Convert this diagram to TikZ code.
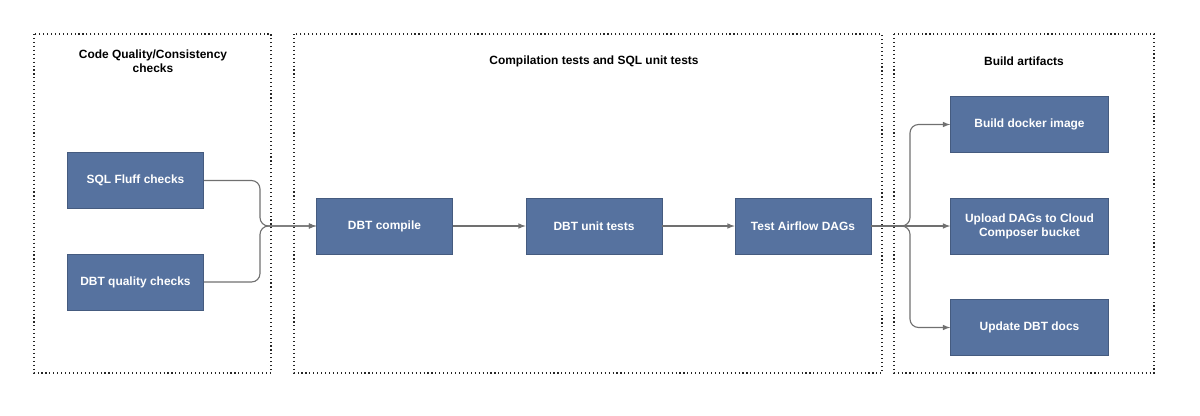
\documentclass[tikz,border=0pt]{standalone}
\usepackage{fontspec}
\setmainfont{Liberation Sans}
\usetikzlibrary{positioning}
\definecolor{stepblue}{HTML}{56729F}
\definecolor{linegray}{HTML}{707070}

\begin{document}
\begin{tikzpicture}[x=0.025cm, y=-0.025cm,
            stepnode/.style={rectangle, fill=stepblue, draw=stepblue!80!black, text=white, font=\fontsize{8.5}{10}\selectfont\bfseries, align=center, minimum height=1.4cm},
            groupbox/.style={draw=black!85, dotted, thick},
            grouptitle/.style={font=\fontsize{8.5}{10}\selectfont\bfseries, align=center},
            link/.style={draw=linegray, thick, -latex, rounded corners=6pt},
        ]
            \useasboundingbox (0,0) rectangle (1200,415);

            %Groups
            \draw[groupbox] (34,34) rectangle (271,373);
            \draw[groupbox] (294,34) rectangle (882,373);
            \draw[groupbox] (894,34) rectangle (1154,373);
            \node[grouptitle] (t1) at (153,61) {Code Quality/Consistency\\checks};
            \node[grouptitle] (t2) at (594,61) {Compilation tests and SQL unit tests};
            \node[grouptitle] (t3) at (1024,61) {Build artifacts};

            %Nodes
            \node[stepnode, minimum width=3.4cm](fluff) at (135.5,180.5) {SQL Fluff checks};
            \node[stepnode, minimum width=3.4cm](quality) at (135.5,282) {DBT quality checks};
            \node[stepnode, minimum width=3.4cm](compile) at (384.5,226) {DBT compile};
            \node[stepnode, minimum width=3.4cm](unit) at (594,226) {DBT unit tests};
            \node[stepnode, minimum width=3.4cm](airflow) at (803,226) {Test Airflow DAGs};
            \node[stepnode, minimum width=3.95cm](docker) at (1029.5,124.5) {Build docker image};
            \node[stepnode, minimum width=3.95cm](upload) at (1029.5,226) {Upload DAGs to Cloud\\Composer bucket};
            \node[stepnode, minimum width=3.95cm](docs) at (1029.5,327.5) {Update DBT docs};

            %Lines
            \draw[link] (fluff.east) -| (260,226) -- (compile.west);
            \draw[link] (quality.east) -| (260,226) -- (compile.west);
            \draw[link] (compile.east) -- (unit.west);
            \draw[link] (unit.east) -- (airflow.west);
            \draw[link] (airflow.east) -- (upload.west);
            \draw[link] (airflow.east) -| (910,124.5) -- (docker.west);
            \draw[link] (airflow.east) -| (910,327.5) -- (docs.west);
        \end{tikzpicture}
\end{document}
